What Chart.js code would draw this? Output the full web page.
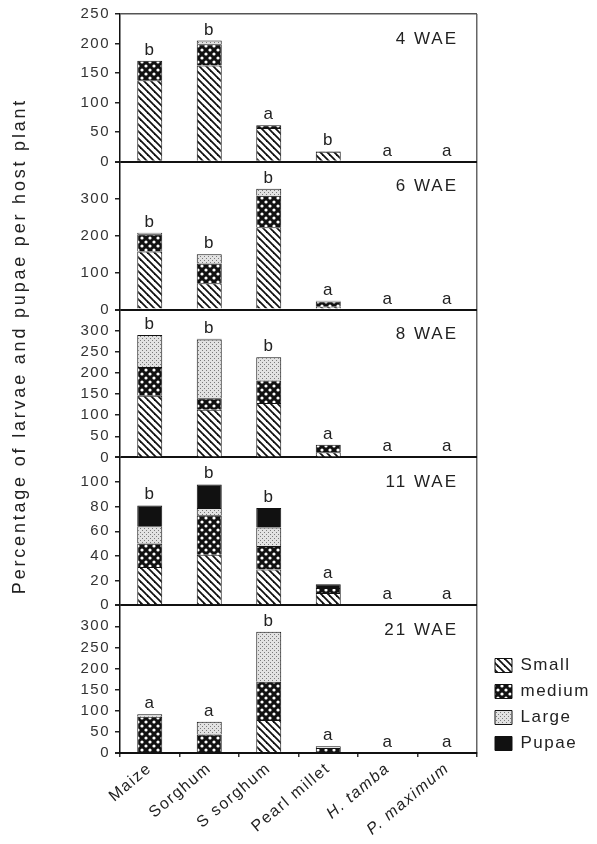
<!DOCTYPE html>
<html>
<head>
<meta charset="utf-8">
<script src="https://cdn.jsdelivr.net/npm/chart.js@4.4.1/dist/chart.umd.min.js"></script>
<style>
html,body{margin:0;padding:0;background:#fff;}
#wrap{width:597px;height:844px;}
</style>
</head>
<body>
<div id="wrap"><canvas id="c" width="597" height="844"></canvas></div>
<script>
// ---------- data ----------
const categories = ['Maize', 'Sorghum', 'S sorghum', 'Pearl millet', 'H. tamba', 'P. maximum'];
const seriesNames = ['Small', 'medium', 'Large', 'Pupae'];
const panelTitles = ['4 WAE', '6 WAE', '8 WAE', '11 WAE', '21 WAE'];
const axisMax  = [250, 400, 350, 120, 350];
const axisStep = [50, 100, 50, 20, 50];

// 4 WAE
const small4  = [138, 163, 57, 17, 0, 0];
const medium4 = [33, 36, 5, 1, 0, 0];
const large4  = [0, 6, 0, 0, 0, 0];
const pupae4  = [0, 0, 0, 0, 0, 0];
const letters4 = ['b', 'b', 'a', 'b', 'a', 'a'];
// 6 WAE
const small6  = [157, 71, 223, 8, 0, 0];
const medium6 = [47, 54, 85, 14, 0, 0];
const large6  = [4, 25, 19, 2, 0, 0];
const pupae6  = [0, 0, 0, 0, 0, 0];
const letters6 = ['b', 'b', 'b', 'a', 'a', 'a'];
// 8 WAE
const small8  = [146, 113, 129, 12, 0, 0];
const medium8 = [68, 27, 53, 18, 0, 0];
const large8  = [76, 139, 55, 0, 0, 0];
const pupae8  = [0, 2, 0, 0, 0, 0];
const letters8 = ['b', 'b', 'b', 'a', 'a', 'a'];
// 11 WAE
const small11  = [31, 41, 29, 10, 0, 0];
const medium11 = [19, 32, 19, 4, 0, 0];
const large11  = [14, 6, 15, 0, 0, 0];
const pupae11  = [17, 19, 16, 3, 0, 0];
const letters11 = ['b', 'b', 'b', 'a', 'a', 'a'];
// 21 WAE
const small21  = [0, 0, 78, 0, 0, 0];
const medium21 = [86, 44, 91, 12, 0, 0];
const large21  = [6, 30, 118, 4, 0, 0];
const pupae21  = [0, 0, 0, 0, 0, 0];
const letters21 = ['a', 'a', 'b', 'a', 'a', 'a'];

const PANEL_DATA = [
  [small4, medium4, large4, pupae4],
  [small6, medium6, large6, pupae6],
  [small8, medium8, large8, pupae8],
  [small11, medium11, large11, pupae11],
  [small21, medium21, large21, pupae21]
];
const LETTERS = [letters4, letters6, letters8, letters11, letters21];

// ---------- patterns ----------
function makePattern(size, paint) {
  const c = document.createElement('canvas');
  c.width = size; c.height = size;
  const g = c.getContext('2d');
  paint(g, size);
  return g.createPattern(c, 'repeat');
}
const patSmall = makePattern(7, (g, s) => {
  g.fillStyle = '#fff'; g.fillRect(0, 0, s, s);
  g.strokeStyle = '#111'; g.lineWidth = 1.8;
  for (const k of [-s, 0, s]) {
    g.beginPath(); g.moveTo(k - 1, -1); g.lineTo(k + s + 1, s + 1); g.stroke();
  }
});
const patMedium = makePattern(8, (g, s) => {
  g.fillStyle = '#111'; g.fillRect(0, 0, s, s);
  g.fillStyle = '#fff';
  for (const [x, y] of [[2, 2], [6, 6]]) {
    g.beginPath(); g.arc(x, y, 1.6, 0, Math.PI * 2); g.fill();
  }
});
const patLarge = makePattern(4, (g, s) => {
  g.fillStyle = '#e2e2e2'; g.fillRect(0, 0, s, s);
  g.fillStyle = '#7a7a7a'; g.fillRect(0, 0, 1, 1); g.fillRect(2, 2, 1, 1);
});
const fills = [patSmall, patMedium, patLarge, '#111'];

// ---------- datasets ----------
const datasets = [];
PANEL_DATA.forEach((series, p) => {
  series.forEach((vals, s) => {
    datasets.push({
      label: seriesNames[s],
      data: vals,
      yAxisID: 'y' + (p + 1),
      stack: 'p' + (p + 1),
      grouped: false,
      backgroundColor: fills[s],
      borderColor: '#111',
      borderWidth: 1,
      barPercentage: 0.42,
      categoryPercentage: 1
    });
  });
});

// ---------- scales ----------
const TRANSPARENT = 'rgba(0,0,0,0)';
const scales = {
  x: {
    type: 'category',
    labels: categories,
    stacked: true,
    offset: true,
    grid: {
      offset: true,
      drawOnChartArea: true,
      color: c => (c.index === undefined ? '#666' : TRANSPARENT),
      lineWidth: 1.5,
      tickLength: 4,
      tickColor: '#333'
    },
    border: { display: true, color: '#111', width: 2 },
    ticks: {
      autoSkip: false,
      maxRotation: 40,
      minRotation: 40,
      padding: 2,
      color: '#222',
      font: c => ({ size: 16, style: c.index >= 4 ? 'italic' : 'normal' })
    },
    afterFit: s => { s.height = 91; }
  }
};
for (let p = 5; p >= 1; p--) {
  const max = axisMax[p - 1];
  scales['y' + p] = {
    type: 'linear',
    position: 'left',
    stack: 'panels',
    stackWeight: 1,
    stacked: true,
    min: 0,
    max: max,
    ticks: {
      stepSize: axisStep[p - 1],
      autoSkip: false,
      color: '#333',
      padding: 5,
      font: { size: 15 },
      callback: v => (p > 1 && v === max) ? null : String(v)
    },
    grid: {
      drawOnChartArea: true,
      color: c => {
        if (!c.tick) return TRANSPARENT;
        if (c.tick.value === 0) return '#111';
        if (p === 1 && c.tick.value === max) return '#555';
        return TRANSPARENT;
      },
      lineWidth: c => (c.tick && c.tick.value === 0 ? 2 : 1.5),
      tickLength: 5,
      tickColor: '#222'
    },
    border: { display: true, color: '#111', width: 1.5 },
    afterFit: s => { s.width = 120; }
  };
}

// ---------- annotations plugin ----------
const FONT = "'Liberation Sans', Arial, Helvetica, sans-serif";
const annot = {
  id: 'annot',
  afterLayout(chart) {
    const lg = chart.legend;
    if (lg) { lg.left += 9; lg.right = 597; lg.top += 8; lg.bottom += 8; }
  },
  beforeDraw(chart) {
    chart.ctx.letterSpacing = '1.5px';
  },
  afterDatasetsDraw(chart) {
    const ctx = chart.ctx;
    const xs = chart.scales.x;
    const area = chart.chartArea;
    ctx.save();
    ctx.letterSpacing = '1px';
    ctx.fillStyle = '#222';
    ctx.font = '17px ' + FONT;
    LETTERS.forEach((lets, p) => {
      const ys = chart.scales['y' + (p + 1)];
      ctx.textAlign = 'center';
      ctx.textBaseline = 'alphabetic';
      lets.forEach((l, i) => {
        const total = PANEL_DATA[p].reduce((a, s) => a + s[i], 0);
        ctx.fillText(l, xs.getPixelForValue(i), ys.getPixelForValue(total) - 6);
      });
      ctx.textAlign = 'right';
      ctx.textBaseline = 'middle';
      ctx.letterSpacing = '2px';
      ctx.fillText(panelTitles[p], area.right - 19, ys.top + 25);
      ctx.letterSpacing = '1px';
    });
    ctx.translate(20, 346);
    ctx.rotate(-Math.PI / 2);
    ctx.letterSpacing = '2.8px';
    ctx.font = '18px ' + FONT;
    ctx.textAlign = 'center';
    ctx.textBaseline = 'middle';
    ctx.fillText('Percentage of larvae and pupae per host plant', 0, 0);
    ctx.restore();
  }
};

Chart.defaults.font.family = FONT;
Chart.defaults.color = '#222';

new Chart(document.getElementById('c'), {
  type: 'bar',
  data: { labels: categories, datasets: datasets },
  options: {
    responsive: false,
    animation: false,
    devicePixelRatio: 1,
    layout: { padding: { top: 13, right: 30, left: 0, bottom: 0 } },
    scales: scales,
    plugins: {
      tooltip: { enabled: false },
      legend: {
        position: 'right',
        align: 'end',
        fullSize: false,
        maxWidth: 90,
        labels: {
          boxWidth: 17,
          boxHeight: 14,
          padding: 9,
          color: '#222',
          font: { size: 17 },
          filter: item => item.datasetIndex < 4
        }
      }
    }
  },
  plugins: [annot]
});
</script>
</body>
</html>
